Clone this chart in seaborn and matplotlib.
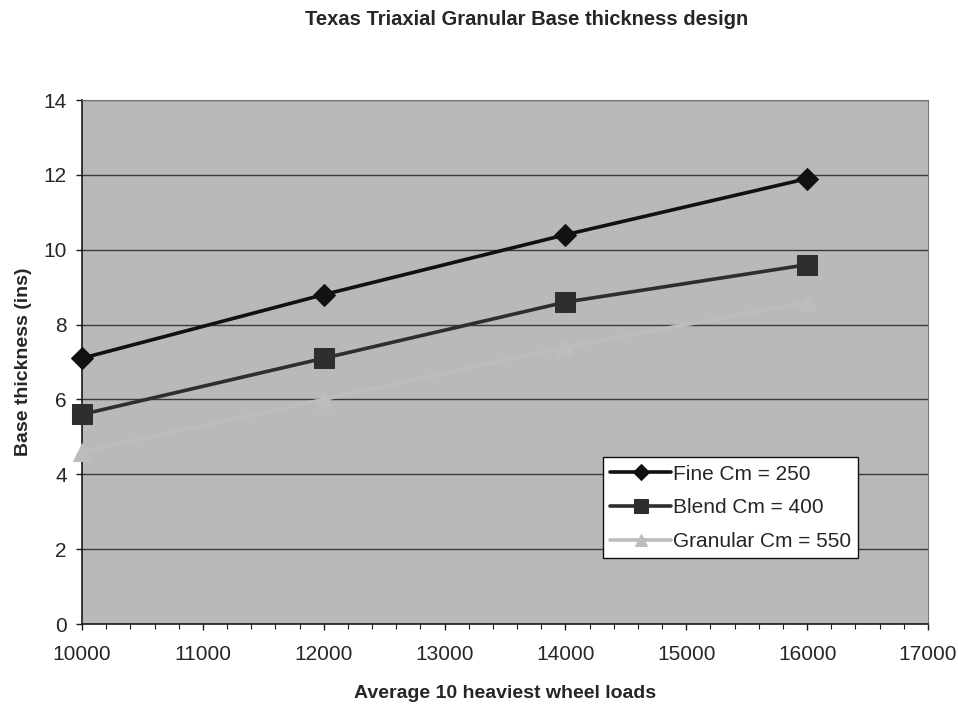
import matplotlib
matplotlib.use("Agg")
import matplotlib.pyplot as plt
import pandas as pd
import seaborn as sns
from matplotlib.ticker import MultipleLocator

WHEEL_LOADS = [10000, 12000, 14000, 16000]
FINE = [7.1, 8.8, 10.4, 11.9]
BLEND = [5.6, 7.1, 8.6, 9.6]
GRANULAR = [4.6, 6.0, 7.4, 8.6]
SERIES_NAMES = ["Fine Cm = 250", "Blend Cm = 400", "Granular Cm = 550"]

PLOT_BG = "#b9b9b9"
STYLES = {
    "Fine Cm = 250": dict(color="#111111", marker="D", ms=11, lw=2.6),
    "Blend Cm = 400": dict(color="#2e2e2e", marker="s", ms=15, lw=2.6),
    "Granular Cm = 550": dict(color="#bdbdbd", marker="^", ms=13, lw=2.6),
}


def build_frame() -> pd.DataFrame:
    rows = []
    for name, values in zip(SERIES_NAMES, [FINE, BLEND, GRANULAR]):
        for x, y in zip(WHEEL_LOADS, values):
            rows.append({"load": x, "thickness": y, "series": name})
    return pd.DataFrame(rows)


def main() -> None:
    sns.set_style("white")
    plt.rcParams["font.family"] = ["Liberation Sans", "DejaVu Sans"]

    df = build_frame()
    fig = plt.figure(figsize=(9.58, 7.04), dpi=100)
    ax = fig.add_axes([82 / 958, 1 - 624 / 704, 846 / 958, 524 / 704])
    ax.set_facecolor(PLOT_BG)

    for name in SERIES_NAMES:
        st = STYLES[name]
        sns.lineplot(
            data=df[df["series"] == name],
            x="load",
            y="thickness",
            ax=ax,
            color=st["color"],
            linewidth=st["lw"],
            marker=st["marker"],
            markersize=st["ms"],
            markeredgecolor=st["color"],
            markerfacecolor=st["color"],
            label=name,
            clip_on=False,
            zorder=3,
        )

    ax.set_xlim(10000, 17000)
    ax.set_ylim(0, 14)
    ax.xaxis.set_major_locator(MultipleLocator(1000))
    ax.xaxis.set_minor_locator(MultipleLocator(200))
    ax.yaxis.set_major_locator(MultipleLocator(2))
    ax.grid(axis="y", color="#3a3a3a", linewidth=1.0)
    ax.set_axisbelow(True)

    for side in ["left", "bottom"]:
        ax.spines[side].set_color("#1a1a1a")
        ax.spines[side].set_linewidth(1.2)
    for side in ["top", "right"]:
        ax.spines[side].set_color("#777777")
        ax.spines[side].set_linewidth(0.8)

    ax.tick_params(axis="both", which="both", bottom=True, left=True)
    ax.tick_params(axis="both", which="major", direction="out", length=4,
                   width=1, color="#1a1a1a", labelsize=15)
    ax.tick_params(axis="x", which="minor", direction="out", length=3.5,
                   width=0.8, color="#1a1a1a")
    ax.tick_params(axis="x", which="major", pad=11)
    ax.tick_params(axis="y", which="major", pad=7)

    ax.set_xlabel("Average 10 heaviest wheel loads", fontsize=14,
                  fontweight="bold", labelpad=15)
    ax.set_ylabel("Base thickness (ins)", fontsize=14, fontweight="bold",
                  labelpad=8)
    fig.text(0.55, 0.973, "Texas Triaxial Granular Base thickness design",
             ha="center", va="center", fontsize=14.5, fontweight="bold")

    leg = ax.legend(
        loc="upper left",
        bbox_to_anchor=(0.616, 0.318),
        borderaxespad=0,
        frameon=True,
        fancybox=False,
        framealpha=1,
        edgecolor="#111111",
        facecolor="white",
        fontsize=15,
        markerscale=0.7,
        handlelength=2.9,
        handletextpad=0.1,
        borderpad=0.35,
        labelspacing=0.7,
    )
    leg.get_frame().set_linewidth(1.0)

    fig.savefig("out.png", dpi=100, facecolor="white")
    plt.close(fig)


if __name__ == "__main__":
    main()
